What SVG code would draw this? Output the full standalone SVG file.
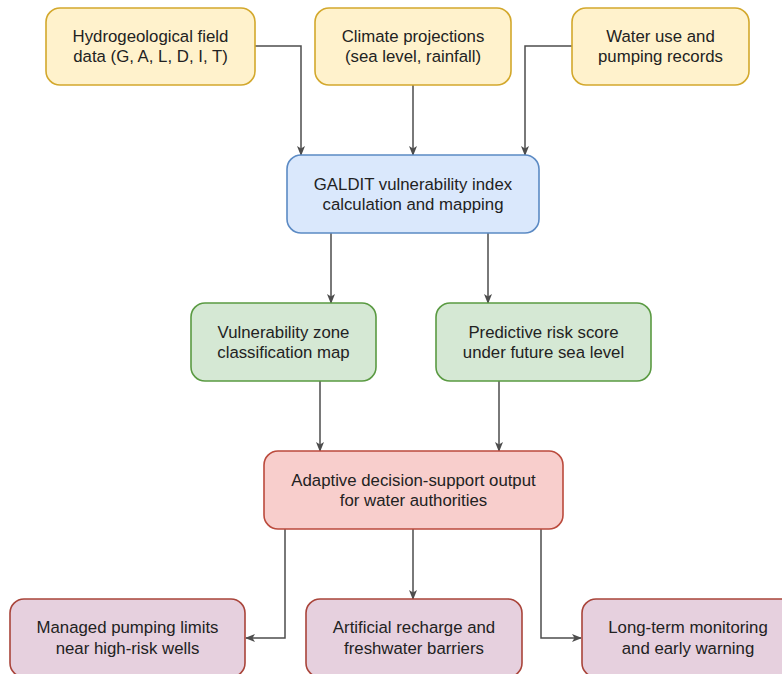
<svg xmlns="http://www.w3.org/2000/svg" width="782" height="674" viewBox="0 0 782 674">
<defs>
<marker id="arr" markerWidth="10" markerHeight="10" refX="9" refY="5" orient="auto" markerUnits="userSpaceOnUse">
<path d="M0,1 L10,5 L0,9 L2.5,5 Z" fill="#4d4d4d"/>
</marker>
<style>
.box{stroke-width:1.6}
.y{fill:#fff2cc;stroke:#d3a82c}
.b{fill:#dae8fc;stroke:#5b8ac4}
.g{fill:#d5e8d4;stroke:#5a9a42}
.r{fill:#f8cecc;stroke:#bb4a3c}
.p{fill:#e6d0de;stroke:#a9443a}
text{font-family:"Liberation Sans",Arial,sans-serif;font-size:16.8px;fill:#222;text-anchor:middle}
.c{fill:none;stroke:#4d4d4d;stroke-width:1.5;marker-end:url(#arr)}
</style>
</defs>
<rect width="782" height="674" fill="#fff"/>
<g id="connectors">
<path class="c" d="M255,46 H301 V155"/>
<path class="c" d="M413,85 V155"/>
<path class="c" d="M572,46 H525 V155"/>
<path class="c" d="M331,233 V303"/>
<path class="c" d="M488,233 V303"/>
<path class="c" d="M320,381 V451"/>
<path class="c" d="M499,381 V451"/>
<path class="c" d="M285,529 V638 H246"/>
<path class="c" d="M413,529 V599"/>
<path class="c" d="M541,529 V638 H581"/>
</g>
<g id="hydro">
<rect class="box y" x="46" y="8" width="209" height="77" rx="14"/>
<text x="150.5" y="41.5">Hydrogeological field</text>
<text x="150.5" y="62">data (G, A, L, D, I, T)</text>
</g>
<g id="climate">
<rect class="box y" x="315" y="8" width="196" height="77" rx="14"/>
<text x="413" y="41.5">Climate projections</text>
<text x="413" y="62">(sea level, rainfall)</text>
</g>
<g id="wateruse">
<rect class="box y" x="572" y="8" width="177" height="77" rx="14"/>
<text x="660.5" y="41.5">Water use and</text>
<text x="660.5" y="62">pumping records</text>
</g>
<g id="galdit">
<rect class="box b" x="287" y="155" width="252" height="78" rx="14"/>
<text x="413" y="189.5">GALDIT vulnerability index</text>
<text x="413" y="210">calculation and mapping</text>
</g>
<g id="vulnzone">
<rect class="box g" x="191" y="303" width="185" height="78" rx="14"/>
<text x="283.5" y="337.5">Vulnerability zone</text>
<text x="283.5" y="358">classification map</text>
</g>
<g id="predictive">
<rect class="box g" x="436" y="303" width="215" height="78" rx="14"/>
<text x="543.5" y="337.5">Predictive risk score</text>
<text x="543.5" y="358">under future sea level</text>
</g>
<g id="adaptive">
<rect class="box r" x="264" y="451" width="299" height="78" rx="14"/>
<text x="413.5" y="485.5">Adaptive decision-support output</text>
<text x="413.5" y="506">for water authorities</text>
</g>
<g id="managed">
<rect class="box p" x="10" y="599" width="235" height="78" rx="14"/>
<text x="127.5" y="633">Managed pumping limits</text>
<text x="127.5" y="653.5">near high-risk wells</text>
</g>
<g id="recharge">
<rect class="box p" x="306" y="599" width="216" height="78" rx="14"/>
<text x="414" y="633">Artificial recharge and</text>
<text x="414" y="653.5">freshwater barriers</text>
</g>
<g id="monitoring">
<rect class="box p" x="582" y="599" width="216" height="78" rx="14"/>
<text x="688" y="633">Long-term monitoring</text>
<text x="688" y="653.5">and early warning</text>
</g>
</svg>
